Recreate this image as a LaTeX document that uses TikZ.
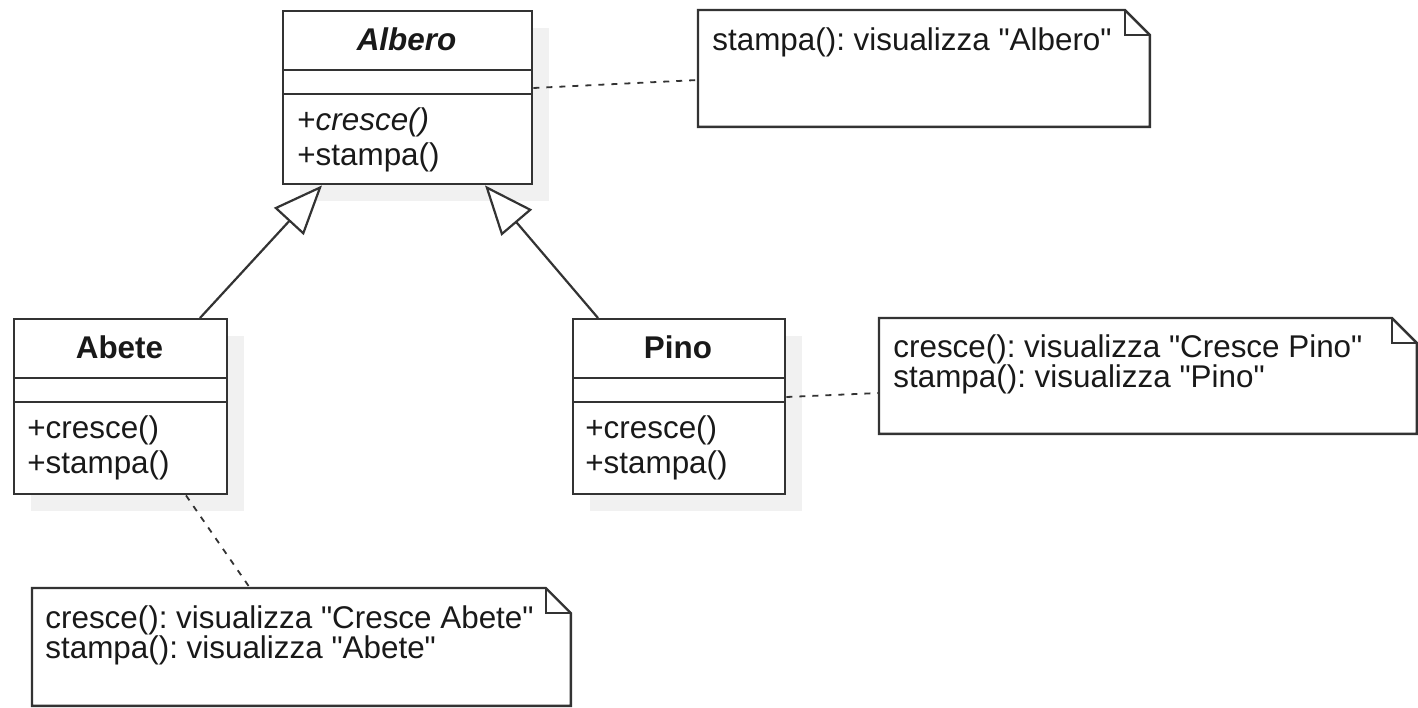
\documentclass[tikz,border=0pt]{standalone}
\usepackage{fontspec}
\setmainfont{Liberation Sans}[Ligatures=TeXOff]
\usetikzlibrary{arrows.meta,calc,shadows}

\definecolor{edgegray}{HTML}{333333}
\definecolor{shadowgray}{HTML}{F1F1F1}
\newcommand{\notefold}{12.5pt}
\frenchspacing

\begin{document}
\begin{tikzpicture}[
  x=0.5pt, y=-0.5pt,
  every node/.style={font=\fontsize{15.7pt}{18pt}\selectfont, inner sep=0pt, text=black!90},
  umlclass/.style={rectangle, draw=edgegray, line width=1.2pt, fill=white, anchor=north west,
    drop shadow={shadow xshift=8.5pt, shadow yshift=-8.5pt, fill=shadowgray, opacity=1}},
  notebox/.style={rectangle, anchor=north west},
  border/.style={draw=edgegray, line width=1.2pt},
  member/.style={anchor=base west},
  title/.style={anchor=base, font=\fontsize{15.7pt}{18pt}\selectfont\bfseries},
  gen/.style={draw=edgegray, line width=1.1pt, -{Triangle[length=24.5pt, width=20pt, fill=white, line width=1.1pt]}},
  anchorline/.style={draw=edgegray, line width=0.9pt, dash pattern=on 3pt off 3.5pt},
]
\useasboundingbox[fill=white] (0,0) rectangle (1418,707);

% classes
\node[umlclass, minimum width=124.5pt, minimum height=86.5pt] (albero) at (282,10) {};
\node[umlclass, minimum width=106.5pt, minimum height=87.5pt] (abete) at (13,318) {};
\node[umlclass, minimum width=106pt, minimum height=87.5pt] (pino) at (572,318) {};

% compartment dividers
\foreach \c in {albero,abete,pino}{
  \draw[border] ($(\c.north west)+(0,60)$) -- ($(\c.north east)+(0,60)$);
  \draw[border] ($(\c.north west)+(0,84)$) -- ($(\c.north east)+(0,84)$);
}

% class names and operations
\node[title] (alberoname) at (406.5,50) {\textit{Albero}};
\node[member] (alberoop1) at (297,130) {+\textit{cresce()}};
\node[member] (alberoop2) at (297,165) {+stampa()};

\node[title] (abetename) at (119.5,358) {Abete};
\node[member] (abeteop1) at (27,438) {+cresce()};
\node[member] (abeteop2) at (27,473) {+stampa()};

\node[title] (pinoname) at (678,358) {Pino};
\node[member] (pinoop1) at (585,438) {+cresce()};
\node[member] (pinoop2) at (585,473) {+stampa()};

% notes
\node[notebox, minimum width=225.5pt, minimum height=58pt] (nalbero) at (698,10) {};
\node[notebox, minimum width=268.5pt, minimum height=57.5pt] (npino) at (879,318) {};
\node[notebox, minimum width=269pt, minimum height=58.5pt] (nabete) at (32,588) {};

\foreach \n in {nalbero,npino,nabete}{
  \draw[border, fill=white] (\n.north west) -- ([xshift=-\notefold]\n.north east)
    -- ([yshift=-\notefold]\n.north east) -- (\n.south east) -- (\n.south west) -- cycle;
  \draw[border] ([xshift=-\notefold]\n.north east) |- ([yshift=-\notefold]\n.north east);
}

\node[member] (nalberotext) at (712,50) {stampa(): visualizza "Albero"};
\node[member] (npinotext1) at (893,357) {cresce(): visualizza "Cresce Pino"};
\node[member] (npinotext2) at (893,387) {stampa(): visualizza "Pino"};
\node[member] (nabetetext1) at (45,628) {cresce(): visualizza "Cresce Abete"};
\node[member] (nabetetext2) at (45,658) {stampa(): visualizza "Abete"};

% generalizations
\draw[gen] ($(abete.north west)+(187,0)$) -- ($(albero.south west)+(40,0)$);
\draw[gen] ($(pino.north west)+(26,0)$) -- ($(albero.south west)+(203,0)$);

% note anchors
\draw[anchorline] ($(albero.north east)+(0,78)$) -- ($(nalbero.north west)+(0,70)$);
\draw[anchorline] ($(pino.north east)+(0,79)$) -- ($(npino.north west)+(0,75)$);
\draw[anchorline] ($(abete.south west)+(173,0)$) -- ($(nabete.north west)+(218,0)$);
\end{tikzpicture}
\end{document}
